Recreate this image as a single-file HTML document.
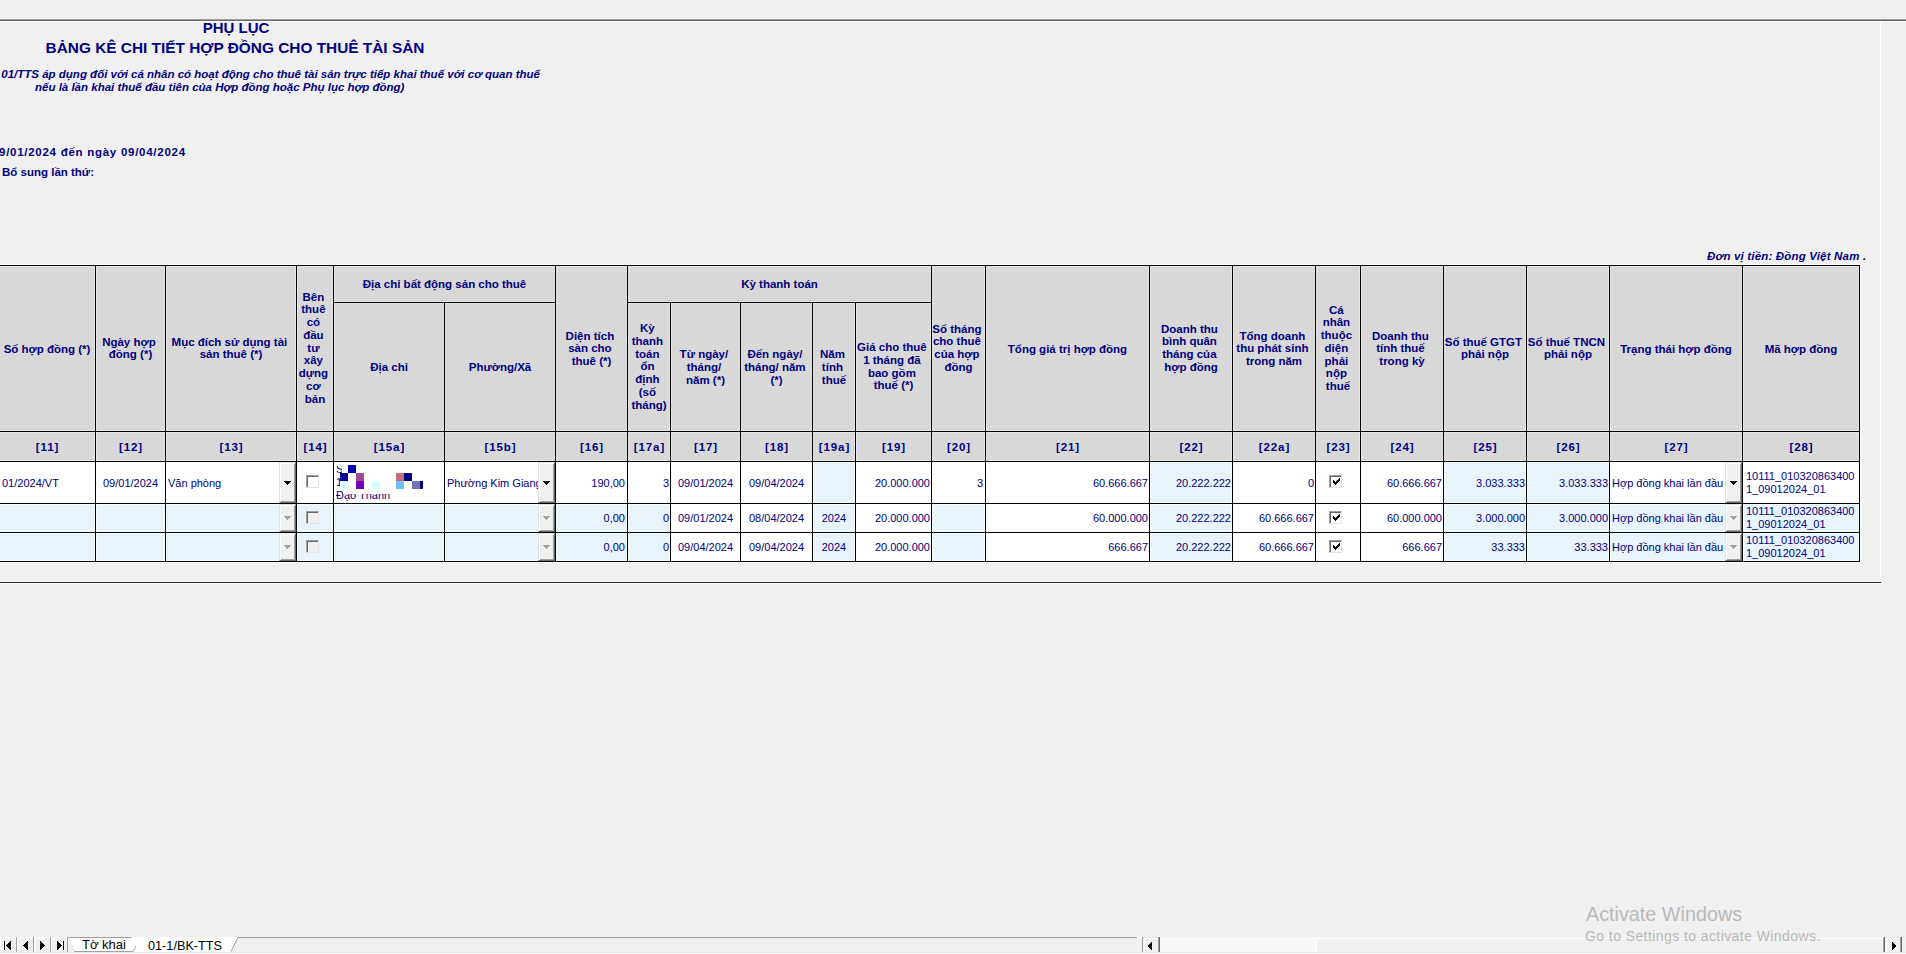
<!DOCTYPE html>
<html><head><meta charset="utf-8">
<style>
html,body{margin:0;padding:0;width:1906px;height:954px;overflow:hidden;background:#f0f0f0;font-family:"Liberation Sans",sans-serif;}
.a{position:absolute;}
.c{position:absolute;overflow:hidden;box-sizing:border-box;}
.ht{position:absolute;left:0;right:0;top:50%;transform:translateY(-50%);text-align:center;font-weight:bold;font-size:11.5px;line-height:12.8px;color:#000080;white-space:nowrap;}
.tx{position:absolute;top:50%;transform:translateY(-50%);font-size:11px;line-height:13px;color:#000080;white-space:nowrap;}
.tx.l{left:2px;}
.tx.c{left:0;right:0;text-align:center;}
.tx.r{right:1px;}
.tx.ml{left:3px;}
.dd{position:absolute;right:0;top:0;bottom:0;width:17px;box-sizing:border-box;background:#f0f0f0;border-left:1px solid #e3e3e3;border-top:1px solid #e3e3e3;border-right:1px solid #696969;border-bottom:1px solid #696969;box-shadow:inset 1px 1px 0 #fff, inset -1px -1px 0 #a0a0a0;}
.ar{position:absolute;left:4px;top:50%;margin-top:-2px;width:0;height:0;border-left:3.5px solid transparent;border-right:3.5px solid transparent;border-top:4px solid #000;}
.cb{position:absolute;width:13px;height:13px;box-sizing:border-box;border-left:1px solid #a0a0a0;border-top:1px solid #a0a0a0;border-right:1px solid #e3e3e3;border-bottom:1px solid #e3e3e3;box-shadow:inset 1px 1px 0 #696969;left:50%;margin-left:-9px;}
</style></head><body>
<!-- top rule -->
<div class="a" style="left:0;top:19px;width:1906px;height:1px;background:#a0a0a0"></div>
<div class="a" style="left:0;top:20px;width:1906px;height:1px;background:#696969"></div>
<div class="a" style="left:0;top:21px;width:1906px;height:1px;background:#fafafa"></div>
<!-- page panel edges -->
<div class="a" style="left:1880px;top:21px;width:1px;height:561px;background:#ffffff"></div>
<div class="a" style="left:0;top:581px;width:1881px;height:1px;background:#ffffff"></div>
<div class="a" style="left:0;top:582px;width:1881px;height:1px;background:#282828"></div>
<div class="a" style="left:0;top:583px;width:1882px;height:1px;background:#ffffff"></div>

<!-- titles -->
<div class="a" style="left:136px;width:200px;top:19px;text-align:center;font-weight:bold;font-size:15px;line-height:18px;color:#000080">PHỤ LỤC</div>
<div class="a" style="left:0;width:470px;top:39px;text-align:center;font-weight:bold;font-size:15.4px;line-height:18px;color:#000080">BẢNG KÊ CHI TIẾT HỢP ĐỒNG CHO THUÊ TÀI SẢN</div>
<div class="a" style="right:1366px;top:67px;font-weight:bold;font-style:italic;font-size:11.5px;line-height:14px;color:#000080;white-space:nowrap">(Kèm theo tờ khai 01/TTS áp dụng đối với cá nhân có hoạt động cho thuê tài sản trực tiếp khai thuế với cơ quan thuế</div>
<div class="a" style="left:35px;top:80px;font-weight:bold;font-style:italic;font-size:11.5px;line-height:14px;color:#000080;white-space:nowrap">nếu là lần khai thuế đầu tiên của Hợp đồng hoặc Phụ lục hợp đồng)</div>
<div class="a" style="left:-1px;top:145px;font-weight:bold;font-size:11.5px;letter-spacing:0.73px;line-height:14px;color:#000080;white-space:nowrap">9/01/2024 đến ngày 09/04/2024</div>
<div class="a" style="left:2px;top:165px;font-weight:bold;font-size:11.5px;line-height:14px;color:#000080;white-space:nowrap">Bổ sung lần thứ:</div>
<div class="a" style="left:1707px;top:249px;font-weight:bold;font-style:italic;font-size:11.5px;letter-spacing:0.18px;line-height:14px;color:#000080;white-space:nowrap">Đơn vị tiền: Đồng Việt Nam .</div>

<!-- table -->
<div class="a" style="left:-20px;top:264px;width:1881px;height:299px;background:#ffffff"></div>
<div class="a" style="left:-20px;top:265px;width:1880px;height:297px;background:#000000"></div>
<div class="c" style="left:-1px;top:266px;width:96px;height:165px;background:#d8d8d8;box-shadow:inset 0 0 0 1px #e6e6e6;"><div class="ht">Số hợp đồng (*)</div></div>
<div class="c" style="left:96px;top:266px;width:69px;height:165px;background:#d8d8d8;box-shadow:inset 0 0 0 1px #e6e6e6;"><div class="ht">Ngày hợp&nbsp;<br>đồng (*)</div></div>
<div class="c" style="left:166px;top:266px;width:130px;height:165px;background:#d8d8d8;box-shadow:inset 0 0 0 1px #e6e6e6;"><div class="ht">Mục đích sử dụng tài&nbsp;<br>sản thuê (*)</div></div>
<div class="c" style="left:297px;top:266px;width:36px;height:165px;background:#d8d8d8;box-shadow:inset 0 0 0 1px #e6e6e6;"><div class="ht">Bên&nbsp;<br>thuê&nbsp;<br>có&nbsp;<br>đầu&nbsp;<br>tư&nbsp;<br>xây&nbsp;<br>dựng&nbsp;<br>cơ&nbsp;<br>bản</div></div>
<div class="c" style="left:334px;top:266px;width:221px;height:36px;background:#d8d8d8;box-shadow:inset 0 0 0 1px #e6e6e6;"><div class="ht">Địa chỉ bất động sản cho thuê</div></div>
<div class="c" style="left:334px;top:303px;width:110px;height:128px;background:#d8d8d8;box-shadow:inset 0 0 0 1px #e6e6e6;"><div class="ht">Địa chỉ</div></div>
<div class="c" style="left:445px;top:303px;width:110px;height:128px;background:#d8d8d8;box-shadow:inset 0 0 0 1px #e6e6e6;"><div class="ht">Phường/Xã</div></div>
<div class="c" style="left:556px;top:266px;width:71px;height:165px;background:#d8d8d8;box-shadow:inset 0 0 0 1px #e6e6e6;"><div class="ht">Diện tích&nbsp;<br>sàn cho&nbsp;<br>thuê (*)</div></div>
<div class="c" style="left:628px;top:266px;width:303px;height:36px;background:#d8d8d8;box-shadow:inset 0 0 0 1px #e6e6e6;"><div class="ht">Kỳ thanh toán</div></div>
<div class="c" style="left:628px;top:303px;width:42px;height:128px;background:#d8d8d8;box-shadow:inset 0 0 0 1px #e6e6e6;"><div class="ht">Kỳ&nbsp;<br>thanh&nbsp;<br>toán&nbsp;<br>ổn&nbsp;<br>định&nbsp;<br>(số&nbsp;<br>tháng)</div></div>
<div class="c" style="left:671px;top:303px;width:69px;height:128px;background:#d8d8d8;box-shadow:inset 0 0 0 1px #e6e6e6;"><div class="ht">Từ ngày/&nbsp;<br>tháng/&nbsp;<br>năm (*)</div></div>
<div class="c" style="left:741px;top:303px;width:71px;height:128px;background:#d8d8d8;box-shadow:inset 0 0 0 1px #e6e6e6;"><div class="ht">Đến ngày/&nbsp;<br>tháng/ năm&nbsp;<br>(*)</div></div>
<div class="c" style="left:813px;top:303px;width:42px;height:128px;background:#d8d8d8;box-shadow:inset 0 0 0 1px #e6e6e6;"><div class="ht">Năm&nbsp;<br>tính&nbsp;<br>thuế</div></div>
<div class="c" style="left:856px;top:303px;width:75px;height:128px;background:#d8d8d8;box-shadow:inset 0 0 0 1px #e6e6e6;"><div class="ht">Giá cho thuê&nbsp;<br>1 tháng đã&nbsp;<br>bao gồm&nbsp;<br>thuế (*)</div></div>
<div class="c" style="left:932px;top:266px;width:53px;height:165px;background:#d8d8d8;box-shadow:inset 0 0 0 1px #e6e6e6;"><div class="ht">Số tháng&nbsp;<br>cho thuê&nbsp;<br>của hợp&nbsp;<br>đồng</div></div>
<div class="c" style="left:986px;top:266px;width:163px;height:165px;background:#d8d8d8;box-shadow:inset 0 0 0 1px #e6e6e6;"><div class="ht">Tổng giá trị hợp đồng</div></div>
<div class="c" style="left:1150px;top:266px;width:82px;height:165px;background:#d8d8d8;box-shadow:inset 0 0 0 1px #e6e6e6;"><div class="ht">Doanh thu&nbsp;<br>bình quân&nbsp;<br>tháng của&nbsp;<br>hợp đồng</div></div>
<div class="c" style="left:1233px;top:266px;width:82px;height:165px;background:#d8d8d8;box-shadow:inset 0 0 0 1px #e6e6e6;"><div class="ht">Tổng doanh&nbsp;<br>thu phát sinh&nbsp;<br>trong năm</div></div>
<div class="c" style="left:1316px;top:266px;width:44px;height:165px;background:#d8d8d8;box-shadow:inset 0 0 0 1px #e6e6e6;"><div class="ht">Cá&nbsp;<br>nhân&nbsp;<br>thuộc&nbsp;<br>diện&nbsp;<br>phải&nbsp;<br>nộp&nbsp;<br>thuế</div></div>
<div class="c" style="left:1361px;top:266px;width:82px;height:165px;background:#d8d8d8;box-shadow:inset 0 0 0 1px #e6e6e6;"><div class="ht">Doanh thu&nbsp;<br>tính thuế&nbsp;<br>trong kỳ</div></div>
<div class="c" style="left:1444px;top:266px;width:82px;height:165px;background:#d8d8d8;box-shadow:inset 0 0 0 1px #e6e6e6;"><div class="ht">Số thuế GTGT&nbsp;<br>phải nộp</div></div>
<div class="c" style="left:1527px;top:266px;width:82px;height:165px;background:#d8d8d8;box-shadow:inset 0 0 0 1px #e6e6e6;"><div class="ht">Số thuế TNCN&nbsp;<br>phải nộp</div></div>
<div class="c" style="left:1610px;top:266px;width:132px;height:165px;background:#d8d8d8;box-shadow:inset 0 0 0 1px #e6e6e6;"><div class="ht">Trạng thái hợp đồng</div></div>
<div class="c" style="left:1743px;top:266px;width:116px;height:165px;background:#d8d8d8;box-shadow:inset 0 0 0 1px #e6e6e6;"><div class="ht">Mã hợp đồng</div></div>
<div class="c" style="left:-1px;top:432px;width:96px;height:29px;background:#d8d8d8;box-shadow:inset 0 0 0 1px #e6e6e6;"><div class="ht" style="letter-spacing:0.9px;text-indent:0.9px">[11]</div></div>
<div class="c" style="left:96px;top:432px;width:69px;height:29px;background:#d8d8d8;box-shadow:inset 0 0 0 1px #e6e6e6;"><div class="ht" style="letter-spacing:0.9px;text-indent:0.9px">[12]</div></div>
<div class="c" style="left:166px;top:432px;width:130px;height:29px;background:#d8d8d8;box-shadow:inset 0 0 0 1px #e6e6e6;"><div class="ht" style="letter-spacing:0.9px;text-indent:0.9px">[13]</div></div>
<div class="c" style="left:297px;top:432px;width:36px;height:29px;background:#d8d8d8;box-shadow:inset 0 0 0 1px #e6e6e6;"><div class="ht" style="letter-spacing:0.9px;text-indent:0.9px">[14]</div></div>
<div class="c" style="left:334px;top:432px;width:110px;height:29px;background:#d8d8d8;box-shadow:inset 0 0 0 1px #e6e6e6;"><div class="ht" style="letter-spacing:0.9px;text-indent:0.9px">[15a]</div></div>
<div class="c" style="left:445px;top:432px;width:110px;height:29px;background:#d8d8d8;box-shadow:inset 0 0 0 1px #e6e6e6;"><div class="ht" style="letter-spacing:0.9px;text-indent:0.9px">[15b]</div></div>
<div class="c" style="left:556px;top:432px;width:71px;height:29px;background:#d8d8d8;box-shadow:inset 0 0 0 1px #e6e6e6;"><div class="ht" style="letter-spacing:0.9px;text-indent:0.9px">[16]</div></div>
<div class="c" style="left:628px;top:432px;width:42px;height:29px;background:#d8d8d8;box-shadow:inset 0 0 0 1px #e6e6e6;"><div class="ht" style="letter-spacing:0.9px;text-indent:0.9px">[17a]</div></div>
<div class="c" style="left:671px;top:432px;width:69px;height:29px;background:#d8d8d8;box-shadow:inset 0 0 0 1px #e6e6e6;"><div class="ht" style="letter-spacing:0.9px;text-indent:0.9px">[17]</div></div>
<div class="c" style="left:741px;top:432px;width:71px;height:29px;background:#d8d8d8;box-shadow:inset 0 0 0 1px #e6e6e6;"><div class="ht" style="letter-spacing:0.9px;text-indent:0.9px">[18]</div></div>
<div class="c" style="left:813px;top:432px;width:42px;height:29px;background:#d8d8d8;box-shadow:inset 0 0 0 1px #e6e6e6;"><div class="ht" style="letter-spacing:0.9px;text-indent:0.9px">[19a]</div></div>
<div class="c" style="left:856px;top:432px;width:75px;height:29px;background:#d8d8d8;box-shadow:inset 0 0 0 1px #e6e6e6;"><div class="ht" style="letter-spacing:0.9px;text-indent:0.9px">[19]</div></div>
<div class="c" style="left:932px;top:432px;width:53px;height:29px;background:#d8d8d8;box-shadow:inset 0 0 0 1px #e6e6e6;"><div class="ht" style="letter-spacing:0.9px;text-indent:0.9px">[20]</div></div>
<div class="c" style="left:986px;top:432px;width:163px;height:29px;background:#d8d8d8;box-shadow:inset 0 0 0 1px #e6e6e6;"><div class="ht" style="letter-spacing:0.9px;text-indent:0.9px">[21]</div></div>
<div class="c" style="left:1150px;top:432px;width:82px;height:29px;background:#d8d8d8;box-shadow:inset 0 0 0 1px #e6e6e6;"><div class="ht" style="letter-spacing:0.9px;text-indent:0.9px">[22]</div></div>
<div class="c" style="left:1233px;top:432px;width:82px;height:29px;background:#d8d8d8;box-shadow:inset 0 0 0 1px #e6e6e6;"><div class="ht" style="letter-spacing:0.9px;text-indent:0.9px">[22a]</div></div>
<div class="c" style="left:1316px;top:432px;width:44px;height:29px;background:#d8d8d8;box-shadow:inset 0 0 0 1px #e6e6e6;"><div class="ht" style="letter-spacing:0.9px;text-indent:0.9px">[23]</div></div>
<div class="c" style="left:1361px;top:432px;width:82px;height:29px;background:#d8d8d8;box-shadow:inset 0 0 0 1px #e6e6e6;"><div class="ht" style="letter-spacing:0.9px;text-indent:0.9px">[24]</div></div>
<div class="c" style="left:1444px;top:432px;width:82px;height:29px;background:#d8d8d8;box-shadow:inset 0 0 0 1px #e6e6e6;"><div class="ht" style="letter-spacing:0.9px;text-indent:0.9px">[25]</div></div>
<div class="c" style="left:1527px;top:432px;width:82px;height:29px;background:#d8d8d8;box-shadow:inset 0 0 0 1px #e6e6e6;"><div class="ht" style="letter-spacing:0.9px;text-indent:0.9px">[26]</div></div>
<div class="c" style="left:1610px;top:432px;width:132px;height:29px;background:#d8d8d8;box-shadow:inset 0 0 0 1px #e6e6e6;"><div class="ht" style="letter-spacing:0.9px;text-indent:0.9px">[27]</div></div>
<div class="c" style="left:1743px;top:432px;width:116px;height:29px;background:#d8d8d8;box-shadow:inset 0 0 0 1px #e6e6e6;"><div class="ht" style="letter-spacing:0.9px;text-indent:0.9px">[28]</div></div>
<div class="c" style="left:-1px;top:462px;width:96px;height:41px;background:#ffffff;"><div class="tx" style="left:3px">01/2024/VT</div></div>
<div class="c" style="left:96px;top:462px;width:69px;height:41px;background:#ffffff;"><div class="tx c">09/01/2024</div></div>
<div class="c" style="left:166px;top:462px;width:130px;height:41px;background:#ffffff;"><div class="tx l">Văn phòng</div><div class="dd"><svg width="17" height="41" style="position:absolute;left:-1px;top:-1px"><rect x="5" y="19" width="7" height="1" fill="#000"/><rect x="6" y="20" width="5" height="1" fill="#000"/><rect x="7" y="21" width="3" height="1" fill="#000"/><rect x="8" y="22" width="1" height="1" fill="#000"/></svg></div></div>
<div class="c" style="left:297px;top:462px;width:36px;height:41px;background:#ffffff;"><div class="cb" style="background:#ffffff;top:13px"></div></div>
<div class="c" style="left:334px;top:462px;width:110px;height:41px;background:#ffffff;"><div class="a" style="left:2px;top:4px;width:6px;height:24px;overflow:hidden"><div class="a" style="left:0;top:-3px;font-size:11px;line-height:13px;color:#000080">S<br>1</div></div><div class="a" style="left:2px;top:29px;width:7px;height:12px;overflow:hidden"><div class="a" style="left:0;top:-2px;font-size:11px;line-height:13px;color:#000080;white-space:nowrap">Đạo Thanh</div></div><div class="a" style="left:9px;top:32px;width:90px;height:9px;overflow:hidden"><div class="a" style="left:-7px;top:-5px;font-size:11px;line-height:13px;color:#000080;white-space:nowrap">Đạo Thanh</div></div><div class="a" style="left:14px;top:3px;width:8px;height:8px;background:#0000b4"></div><div class="a" style="left:6px;top:11px;width:8px;height:8px;background:#000098"></div><div class="a" style="left:22px;top:11px;width:8px;height:8px;background:#9a4a96"></div><div class="a" style="left:62px;top:11px;width:8px;height:8px;background:#c07078"></div><div class="a" style="left:70px;top:11px;width:8px;height:8px;background:#000080"></div><div class="a" style="left:6px;top:19px;width:8px;height:8px;background:#d8ffff"></div><div class="a" style="left:22px;top:19px;width:8px;height:8px;background:#7400b4"></div><div class="a" style="left:38px;top:19px;width:8px;height:8px;background:#d8ffff"></div><div class="a" style="left:62px;top:19px;width:8px;height:8px;background:#70c0ff"></div><div class="a" style="left:78px;top:19px;width:8px;height:8px;background:#7474b0"></div><div class="a" style="left:86px;top:19px;width:3px;height:8px;background:#000080"></div></div>
<div class="c" style="left:445px;top:462px;width:110px;height:41px;background:#ffffff;"><div class="tx l">Phường Kim Giang</div><div class="dd"><svg width="17" height="41" style="position:absolute;left:-1px;top:-1px"><rect x="5" y="19" width="7" height="1" fill="#000"/><rect x="6" y="20" width="5" height="1" fill="#000"/><rect x="7" y="21" width="3" height="1" fill="#000"/><rect x="8" y="22" width="1" height="1" fill="#000"/></svg></div></div>
<div class="c" style="left:556px;top:462px;width:71px;height:41px;background:#ffffff;"><div class="tx" style="right:2px">190,00</div></div>
<div class="c" style="left:628px;top:462px;width:42px;height:41px;background:#ffffff;"><div class="tx r">3</div></div>
<div class="c" style="left:671px;top:462px;width:69px;height:41px;background:#ffffff;"><div class="tx c">09/01/2024</div></div>
<div class="c" style="left:741px;top:462px;width:71px;height:41px;background:#ffffff;"><div class="tx c">09/04/2024</div></div>
<div class="c" style="left:813px;top:462px;width:42px;height:41px;background:#e8f4fc;box-shadow:inset 0 0 0 1px #f6fdff;"></div>
<div class="c" style="left:856px;top:462px;width:75px;height:41px;background:#ffffff;"><div class="tx r">20.000.000</div></div>
<div class="c" style="left:932px;top:462px;width:53px;height:41px;background:#ffffff;"><div class="tx" style="right:2px">3</div></div>
<div class="c" style="left:986px;top:462px;width:163px;height:41px;background:#ffffff;"><div class="tx r">60.666.667</div></div>
<div class="c" style="left:1150px;top:462px;width:82px;height:41px;background:#e8f4fc;box-shadow:inset 0 0 0 1px #f6fdff;"><div class="tx r">20.222.222</div></div>
<div class="c" style="left:1233px;top:462px;width:82px;height:41px;background:#ffffff;"><div class="tx r">0</div></div>
<div class="c" style="left:1316px;top:462px;width:44px;height:41px;background:#ffffff;"><div class="cb" style="background:#ffffff;top:13px"><svg width="13" height="13" style="position:absolute;left:-1px;top:-1px"><rect x="4" y="5" width="1" height="3" fill="#000"/><rect x="5" y="6" width="1" height="3" fill="#000"/><rect x="6" y="7" width="1" height="3" fill="#000"/><rect x="7" y="6" width="1" height="3" fill="#000"/><rect x="8" y="5" width="1" height="3" fill="#000"/><rect x="9" y="4" width="1" height="3" fill="#000"/><rect x="10" y="3" width="1" height="3" fill="#000"/></svg></div></div>
<div class="c" style="left:1361px;top:462px;width:82px;height:41px;background:#ffffff;"><div class="tx r">60.666.667</div></div>
<div class="c" style="left:1444px;top:462px;width:82px;height:41px;background:#e8f4fc;box-shadow:inset 0 0 0 1px #f6fdff;"><div class="tx r">3.033.333</div></div>
<div class="c" style="left:1527px;top:462px;width:82px;height:41px;background:#e8f4fc;box-shadow:inset 0 0 0 1px #f6fdff;"><div class="tx r">3.033.333</div></div>
<div class="c" style="left:1610px;top:462px;width:132px;height:41px;background:#ffffff;"><div class="tx l">Hợp đồng khai lần đầu</div><div class="dd"><svg width="17" height="41" style="position:absolute;left:-1px;top:-1px"><rect x="5" y="19" width="7" height="1" fill="#000"/><rect x="6" y="20" width="5" height="1" fill="#000"/><rect x="7" y="21" width="3" height="1" fill="#000"/><rect x="8" y="22" width="1" height="1" fill="#000"/></svg></div></div>
<div class="c" style="left:1743px;top:462px;width:116px;height:41px;background:#ffffff;"><div class="tx ml">10111_010320863400<br>1_09012024_01</div></div>
<div class="c" style="left:-1px;top:504px;width:96px;height:28px;background:#e8f4fc;box-shadow:inset 0 0 0 1px #f6fdff;"></div>
<div class="c" style="left:96px;top:504px;width:69px;height:28px;background:#e8f4fc;box-shadow:inset 0 0 0 1px #f6fdff;"></div>
<div class="c" style="left:166px;top:504px;width:130px;height:28px;background:#e8f4fc;box-shadow:inset 0 0 0 1px #f6fdff;"><div class="dd"><svg width="17" height="28" style="position:absolute;left:-1px;top:-1px"><rect x="5" y="12" width="7" height="1" fill="#a0a0a0"/><rect x="6" y="13" width="5" height="1" fill="#a0a0a0"/><rect x="7" y="14" width="3" height="1" fill="#a0a0a0"/><rect x="8" y="15" width="1" height="1" fill="#a0a0a0"/></svg></div></div>
<div class="c" style="left:297px;top:504px;width:36px;height:28px;background:#e8f4fc;box-shadow:inset 0 0 0 1px #f6fdff;"><div class="cb" style="background:#f0f0f0;top:7px"></div></div>
<div class="c" style="left:334px;top:504px;width:110px;height:28px;background:#e8f4fc;box-shadow:inset 0 0 0 1px #f6fdff;"></div>
<div class="c" style="left:445px;top:504px;width:110px;height:28px;background:#e8f4fc;box-shadow:inset 0 0 0 1px #f6fdff;"><div class="dd"><svg width="17" height="28" style="position:absolute;left:-1px;top:-1px"><rect x="5" y="12" width="7" height="1" fill="#a0a0a0"/><rect x="6" y="13" width="5" height="1" fill="#a0a0a0"/><rect x="7" y="14" width="3" height="1" fill="#a0a0a0"/><rect x="8" y="15" width="1" height="1" fill="#a0a0a0"/></svg></div></div>
<div class="c" style="left:556px;top:504px;width:71px;height:28px;background:#e8f4fc;box-shadow:inset 0 0 0 1px #f6fdff;"><div class="tx" style="right:2px">0,00</div></div>
<div class="c" style="left:628px;top:504px;width:42px;height:28px;background:#e8f4fc;box-shadow:inset 0 0 0 1px #f6fdff;"><div class="tx r">0</div></div>
<div class="c" style="left:671px;top:504px;width:69px;height:28px;background:#ffffff;"><div class="tx c">09/01/2024</div></div>
<div class="c" style="left:741px;top:504px;width:71px;height:28px;background:#ffffff;"><div class="tx c">08/04/2024</div></div>
<div class="c" style="left:813px;top:504px;width:42px;height:28px;background:#e8f4fc;box-shadow:inset 0 0 0 1px #f6fdff;"><div class="tx c">2024</div></div>
<div class="c" style="left:856px;top:504px;width:75px;height:28px;background:#ffffff;"><div class="tx r">20.000.000</div></div>
<div class="c" style="left:932px;top:504px;width:53px;height:28px;background:#e8f4fc;box-shadow:inset 0 0 0 1px #f6fdff;"></div>
<div class="c" style="left:986px;top:504px;width:163px;height:28px;background:#ffffff;"><div class="tx r">60.000.000</div></div>
<div class="c" style="left:1150px;top:504px;width:82px;height:28px;background:#e8f4fc;box-shadow:inset 0 0 0 1px #f6fdff;"><div class="tx r">20.222.222</div></div>
<div class="c" style="left:1233px;top:504px;width:82px;height:28px;background:#ffffff;"><div class="tx r">60.666.667</div></div>
<div class="c" style="left:1316px;top:504px;width:44px;height:28px;background:#ffffff;"><div class="cb" style="background:#ffffff;top:7px"><svg width="13" height="13" style="position:absolute;left:-1px;top:-1px"><rect x="4" y="5" width="1" height="3" fill="#000"/><rect x="5" y="6" width="1" height="3" fill="#000"/><rect x="6" y="7" width="1" height="3" fill="#000"/><rect x="7" y="6" width="1" height="3" fill="#000"/><rect x="8" y="5" width="1" height="3" fill="#000"/><rect x="9" y="4" width="1" height="3" fill="#000"/><rect x="10" y="3" width="1" height="3" fill="#000"/></svg></div></div>
<div class="c" style="left:1361px;top:504px;width:82px;height:28px;background:#ffffff;"><div class="tx r">60.000.000</div></div>
<div class="c" style="left:1444px;top:504px;width:82px;height:28px;background:#e8f4fc;box-shadow:inset 0 0 0 1px #f6fdff;"><div class="tx r">3.000.000</div></div>
<div class="c" style="left:1527px;top:504px;width:82px;height:28px;background:#e8f4fc;box-shadow:inset 0 0 0 1px #f6fdff;"><div class="tx r">3.000.000</div></div>
<div class="c" style="left:1610px;top:504px;width:132px;height:28px;background:#e8f4fc;box-shadow:inset 0 0 0 1px #f6fdff;"><div class="tx l">Hợp đồng khai lần đầu</div><div class="dd"><svg width="17" height="28" style="position:absolute;left:-1px;top:-1px"><rect x="5" y="12" width="7" height="1" fill="#a0a0a0"/><rect x="6" y="13" width="5" height="1" fill="#a0a0a0"/><rect x="7" y="14" width="3" height="1" fill="#a0a0a0"/><rect x="8" y="15" width="1" height="1" fill="#a0a0a0"/></svg></div></div>
<div class="c" style="left:1743px;top:504px;width:116px;height:28px;background:#e8f4fc;box-shadow:inset 0 0 0 1px #f6fdff;"><div class="tx ml">10111_010320863400<br>1_09012024_01</div></div>
<div class="c" style="left:-1px;top:533px;width:96px;height:28px;background:#e8f4fc;box-shadow:inset 0 0 0 1px #f6fdff;"></div>
<div class="c" style="left:96px;top:533px;width:69px;height:28px;background:#e8f4fc;box-shadow:inset 0 0 0 1px #f6fdff;"></div>
<div class="c" style="left:166px;top:533px;width:130px;height:28px;background:#e8f4fc;box-shadow:inset 0 0 0 1px #f6fdff;"><div class="dd"><svg width="17" height="28" style="position:absolute;left:-1px;top:-1px"><rect x="5" y="12" width="7" height="1" fill="#a0a0a0"/><rect x="6" y="13" width="5" height="1" fill="#a0a0a0"/><rect x="7" y="14" width="3" height="1" fill="#a0a0a0"/><rect x="8" y="15" width="1" height="1" fill="#a0a0a0"/></svg></div></div>
<div class="c" style="left:297px;top:533px;width:36px;height:28px;background:#e8f4fc;box-shadow:inset 0 0 0 1px #f6fdff;"><div class="cb" style="background:#f0f0f0;top:7px"></div></div>
<div class="c" style="left:334px;top:533px;width:110px;height:28px;background:#e8f4fc;box-shadow:inset 0 0 0 1px #f6fdff;"></div>
<div class="c" style="left:445px;top:533px;width:110px;height:28px;background:#e8f4fc;box-shadow:inset 0 0 0 1px #f6fdff;"><div class="dd"><svg width="17" height="28" style="position:absolute;left:-1px;top:-1px"><rect x="5" y="12" width="7" height="1" fill="#a0a0a0"/><rect x="6" y="13" width="5" height="1" fill="#a0a0a0"/><rect x="7" y="14" width="3" height="1" fill="#a0a0a0"/><rect x="8" y="15" width="1" height="1" fill="#a0a0a0"/></svg></div></div>
<div class="c" style="left:556px;top:533px;width:71px;height:28px;background:#e8f4fc;box-shadow:inset 0 0 0 1px #f6fdff;"><div class="tx" style="right:2px">0,00</div></div>
<div class="c" style="left:628px;top:533px;width:42px;height:28px;background:#e8f4fc;box-shadow:inset 0 0 0 1px #f6fdff;"><div class="tx r">0</div></div>
<div class="c" style="left:671px;top:533px;width:69px;height:28px;background:#ffffff;"><div class="tx c">09/04/2024</div></div>
<div class="c" style="left:741px;top:533px;width:71px;height:28px;background:#ffffff;"><div class="tx c">09/04/2024</div></div>
<div class="c" style="left:813px;top:533px;width:42px;height:28px;background:#e8f4fc;box-shadow:inset 0 0 0 1px #f6fdff;"><div class="tx c">2024</div></div>
<div class="c" style="left:856px;top:533px;width:75px;height:28px;background:#ffffff;"><div class="tx r">20.000.000</div></div>
<div class="c" style="left:932px;top:533px;width:53px;height:28px;background:#e8f4fc;box-shadow:inset 0 0 0 1px #f6fdff;"></div>
<div class="c" style="left:986px;top:533px;width:163px;height:28px;background:#ffffff;"><div class="tx r">666.667</div></div>
<div class="c" style="left:1150px;top:533px;width:82px;height:28px;background:#e8f4fc;box-shadow:inset 0 0 0 1px #f6fdff;"><div class="tx r">20.222.222</div></div>
<div class="c" style="left:1233px;top:533px;width:82px;height:28px;background:#ffffff;"><div class="tx r">60.666.667</div></div>
<div class="c" style="left:1316px;top:533px;width:44px;height:28px;background:#ffffff;"><div class="cb" style="background:#ffffff;top:7px"><svg width="13" height="13" style="position:absolute;left:-1px;top:-1px"><rect x="4" y="5" width="1" height="3" fill="#000"/><rect x="5" y="6" width="1" height="3" fill="#000"/><rect x="6" y="7" width="1" height="3" fill="#000"/><rect x="7" y="6" width="1" height="3" fill="#000"/><rect x="8" y="5" width="1" height="3" fill="#000"/><rect x="9" y="4" width="1" height="3" fill="#000"/><rect x="10" y="3" width="1" height="3" fill="#000"/></svg></div></div>
<div class="c" style="left:1361px;top:533px;width:82px;height:28px;background:#ffffff;"><div class="tx r">666.667</div></div>
<div class="c" style="left:1444px;top:533px;width:82px;height:28px;background:#e8f4fc;box-shadow:inset 0 0 0 1px #f6fdff;"><div class="tx r">33.333</div></div>
<div class="c" style="left:1527px;top:533px;width:82px;height:28px;background:#e8f4fc;box-shadow:inset 0 0 0 1px #f6fdff;"><div class="tx r">33.333</div></div>
<div class="c" style="left:1610px;top:533px;width:132px;height:28px;background:#e8f4fc;box-shadow:inset 0 0 0 1px #f6fdff;"><div class="tx l">Hợp đồng khai lần đầu</div><div class="dd"><svg width="17" height="28" style="position:absolute;left:-1px;top:-1px"><rect x="5" y="12" width="7" height="1" fill="#a0a0a0"/><rect x="6" y="13" width="5" height="1" fill="#a0a0a0"/><rect x="7" y="14" width="3" height="1" fill="#a0a0a0"/><rect x="8" y="15" width="1" height="1" fill="#a0a0a0"/></svg></div></div>
<div class="c" style="left:1743px;top:533px;width:116px;height:28px;background:#e8f4fc;box-shadow:inset 0 0 0 1px #f6fdff;"><div class="tx ml">10111_010320863400<br>1_09012024_01</div></div>

<!-- bottom tab bar -->
<div class="a" style="left:0;top:952px;width:1906px;height:1px;background:#e3e3e3"></div>
<div class="a" style="left:0;top:953px;width:1906px;height:1px;background:#ffffff"></div>
<svg class="a" style="left:0;top:937px" width="67" height="15">
 <rect x="0" y="0" width="67" height="1" fill="#fff"/>
 <rect x="0" y="0" width="1" height="15" fill="#fff"/>
 <rect x="17" y="0" width="1" height="15" fill="#fff"/>
 <rect x="34" y="0" width="1" height="15" fill="#fff"/>
 <rect x="51" y="0" width="1" height="15" fill="#fff"/>
 <rect x="16" y="0" width="1" height="15" fill="#a0a0a0"/>
 <rect x="33" y="0" width="1" height="15" fill="#a0a0a0"/>
 <rect x="50" y="0" width="1" height="15" fill="#a0a0a0"/>
 <rect x="4" y="4" width="1" height="9" fill="#000"/>
 <rect x="10" y="4" width="1" height="9" fill="#000"/><rect x="9" y="5" width="1" height="7" fill="#000"/><rect x="8" y="6" width="1" height="5" fill="#000"/><rect x="7" y="7" width="1" height="3" fill="#000"/><rect x="6" y="8" width="1" height="1" fill="#000"/><rect x="27" y="4" width="1" height="9" fill="#000"/><rect x="26" y="5" width="1" height="7" fill="#000"/><rect x="25" y="6" width="1" height="5" fill="#000"/><rect x="24" y="7" width="1" height="3" fill="#000"/><rect x="23" y="8" width="1" height="1" fill="#000"/><rect x="40" y="4" width="1" height="9" fill="#000"/><rect x="41" y="5" width="1" height="7" fill="#000"/><rect x="42" y="6" width="1" height="5" fill="#000"/><rect x="43" y="7" width="1" height="3" fill="#000"/><rect x="44" y="8" width="1" height="1" fill="#000"/><rect x="57" y="4" width="1" height="9" fill="#000"/><rect x="58" y="5" width="1" height="7" fill="#000"/><rect x="59" y="6" width="1" height="5" fill="#000"/><rect x="60" y="7" width="1" height="3" fill="#000"/><rect x="61" y="8" width="1" height="1" fill="#000"/>
 <rect x="63" y="4" width="1" height="9" fill="#000"/>
</svg>
<svg class="a" style="left:67px;top:936px" width="1075" height="17">
 <path d="M0 1 L65 1 L69 10 L66 16 L7 16 L0 2 Z" fill="#fff"/>
 <path d="M64 1 L171 1 L164 16 L66 16 L69 10 Z" fill="#fff"/>
 <path d="M0.5 1 L0.5 16" stroke="#a0a0a0" stroke-width="1"/>
 <path d="M0 1.5 L64.5 1.5" stroke="#a0a0a0" stroke-width="1"/>
 <path d="M7 15.5 L66 15.5 L69 10" stroke="#a0a0a0" stroke-width="1" fill="none"/>
 <path d="M1.5 2 L7.5 15" stroke="#e4e4e4" stroke-width="1"/>
 <path d="M164 15.5 L171 1.5 L1070 1.5" stroke="#a0a0a0" stroke-width="1" fill="none"/>
</svg>
<div class="a" style="left:82px;top:937px;font-size:13px;line-height:15px;color:#000;white-space:nowrap">Tờ khai</div>
<div class="a" style="left:148px;top:939px;font-size:12.7px;line-height:15px;color:#000;white-space:nowrap">01-1/BK-TTS</div>
<!-- h scrollbar -->
<svg class="a" style="left:1137px;top:937px" width="769" height="15">
 <defs><pattern id="chk" x="0" y="0" width="2" height="2" patternUnits="userSpaceOnUse"><rect width="2" height="2" fill="#f0f0f0"/><rect x="0" y="0" width="1" height="1" fill="#fff"/><rect x="1" y="1" width="1" height="1" fill="#fff"/></pattern></defs>
 <rect x="0" y="0" width="769" height="15" fill="#f0f0f0"/>
 <rect x="0" y="0" width="1" height="15" fill="#fff"/>
 <rect x="0" y="0" width="5" height="1" fill="#fff"/>
 <rect x="5" y="0" width="1" height="15" fill="#a0a0a0"/>
 <!-- left button 1143..1159 -->
 <rect x="6" y="0" width="17" height="1" fill="#e3e3e3"/>
 <rect x="7" y="1" width="15" height="1" fill="#fff"/>
 <rect x="7" y="1" width="1" height="14" fill="#fff"/>
 <rect x="21" y="0" width="1" height="15" fill="#a0a0a0"/>
 <rect x="22" y="0" width="1" height="15" fill="#696969"/>
 <rect x="14" y="5" width="1" height="8" fill="#000"/><rect x="13" y="6" width="1" height="6" fill="#000"/><rect x="12" y="7" width="1" height="4" fill="#000"/><rect x="11" y="8" width="1" height="2" fill="#000"/>
 <!-- track 1160..1315 -->
 <rect x="23" y="0" width="156" height="15" fill="url(#chk)"/>
 <!-- thumb 1316..1884 -->
 <rect x="179" y="1" width="568" height="1" fill="#fff"/>
 <rect x="179" y="1" width="1" height="14" fill="#fff"/>
 <rect x="746" y="1" width="1" height="14" fill="#a0a0a0"/>
 <rect x="747" y="0" width="1" height="15" fill="#696969"/>
 <!-- right button 1885..1901 -->
 <rect x="748" y="0" width="17" height="1" fill="#e3e3e3"/>
 <rect x="749" y="1" width="15" height="1" fill="#fff"/>
 <rect x="749" y="1" width="1" height="14" fill="#fff"/>
 <rect x="763" y="0" width="1" height="15" fill="#a0a0a0"/>
 <rect x="764" y="0" width="1" height="15" fill="#696969"/>
 <rect x="755" y="5" width="1" height="8" fill="#000"/><rect x="756" y="6" width="1" height="6" fill="#000"/><rect x="757" y="7" width="1" height="4" fill="#000"/><rect x="758" y="8" width="1" height="2" fill="#000"/>
</svg>
<!-- watermark -->
<div class="a" style="left:1586px;top:902px;font-size:19.8px;line-height:24px;color:#b9b9b9;white-space:nowrap">Activate Windows</div>
<div class="a" style="left:1585px;top:928px;font-size:14px;letter-spacing:0.42px;line-height:17px;color:#b9b9b9;white-space:nowrap">Go to Settings to activate Windows.</div>
</body></html>
